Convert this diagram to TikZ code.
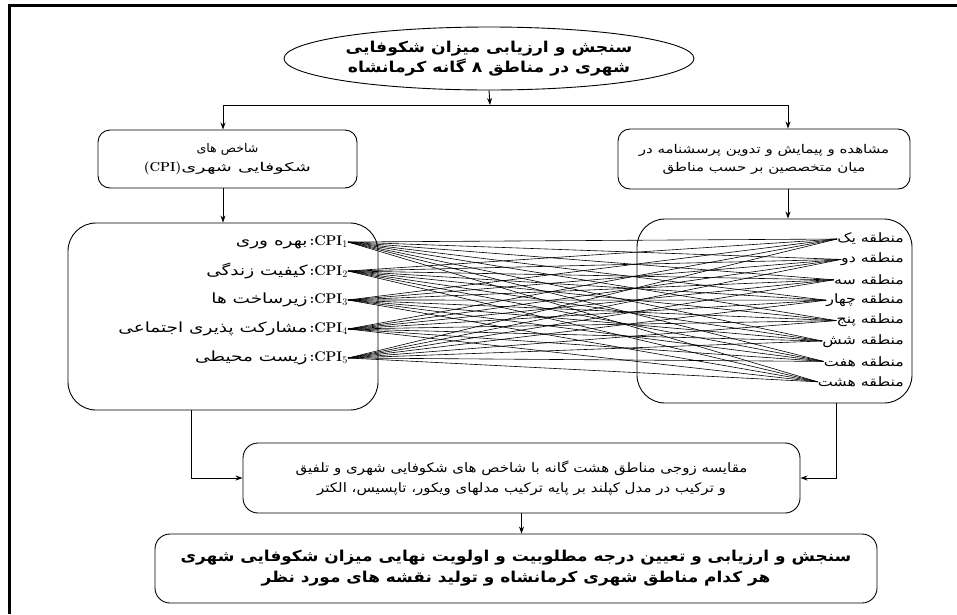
\documentclass[tikz,border=0pt]{standalone}
\usepackage{fontspec}
\usepackage{graphicx}
\usetikzlibrary{shapes.geometric,arrows.meta}
\newfontfamily\fa[Script=Arabic]{DejaVu Sans}
\TeXXeTstate=1
\newcommand\sx[2]{\scalebox{#1}[1]{#2}}
\begin{document}
\begin{tikzpicture}[x=1pt,y=-1pt,
  box/.style={draw, line width=0.9pt, rounded corners=12pt, inner sep=0pt, align=center},
  arr/.style={-{Stealth[length=7pt,width=5pt]}, line width=0.9pt},
  link/.style={line width=0.6pt},
  lab/.style={inner sep=0pt, anchor=east},
  cpif/.style={font=\fa\fontsize{14}{16}\selectfont},
]
\useasboundingbox (0,0) rectangle (957,614);
% frame
\draw[line width=3pt] (9,614) -- (9,5) -- (957,5);

% goal ellipse
\node[ellipse, draw, line width=0.9pt, minimum width=410pt, minimum height=63pt, inner sep=0pt] (goal) at (489,58.5) {};
\node[align=center, font=\fa\bfseries\fontsize{15}{20}\selectfont] (goalt) at (goal.center)
  {\sx{1.15}{\beginR سنجش و ارزیابی میزان شکوفایی\endR}\\\sx{1.15}{\beginR شهری در مناطق ۸ گانه کرمانشاه\endR}};

% second level
\node[box, minimum width=259pt, minimum height=58pt, font=\fa\fontsize{12}{19}\selectfont] (ind) at (227.5,159)
  {\sx{1.05}{\beginR شاخص های\endR}\hspace{46pt}\\{\rmfamily\bfseries\fontsize{13}{13}\selectfont(CPI)}\sx{1.6}{\beginR شکوفایی شهری\endR}};
\node[box, minimum width=292pt, minimum height=60pt, font=\fa\fontsize{12}{18}\selectfont] (obs) at (764,159)
  {\sx{1.25}{\beginR مشاهده و پیمایش و تدوین پرسشنامه در\endR}\\\sx{1.25}{\beginR میان متخصصین بر حسب مناطق\endR}};

% big boxes
\node[box, rounded corners=28pt, minimum width=310pt, minimum height=187pt] (cpibox) at (223,316.5) {};
\node[box, rounded corners=28pt, minimum width=275pt, minimum height=184pt] (zonebox) at (774.5,311) {};

% CPI labels
\foreach \i/\y/\t in {1/242/بهره وری,2/271/کیفیت زندگی,3/300/زیرساخت ها,4/329/مشارکت پذیری اجتماعی,5/358/زیست محیطی}
  \node[lab, cpif] (c\i) at (348,\y) {\sx{1.32}{\beginR \t\endR}\,{\rmfamily\bfseries\fontsize{14}{14}\selectfont :CPI$_{\i}$}};

% zone labels
\foreach \j/\t in {1/یک,2/دو,3/سه,4/چهار,5/پنج,6/شش,7/هفت,8/هشت}
  \node[lab, font=\fa\fontsize{13}{15}\selectfont] (z\j) at (904,{239+20.4*(\j-1)}) {\sx{1.22}{\beginR منطقه \t\endR}};

% links
\foreach \i in {1,...,5}
  \foreach \j in {1,...,8}
    \draw[link] (c\i.east) -- (z\j.west);

% comparison box
\node[box, rounded corners=15pt, minimum width=557pt, minimum height=70pt, font=\fa\fontsize{13}{20}\selectfont] (cmp) at (521.5,478)
  {\sx{1.155}{\beginR مقایسه زوجی مناطق هشت گانه با شاخص های شکوفایی شهری و تلفیق\endR}\\\sx{1.155}{\beginR و ترکیب در مدل کپلند بر پایه ترکیب مدلهای ویکور، تاپسیس، الکتر\endR}};

% final box
\node[box, rounded corners=15pt, minimum width=722pt, minimum height=69pt, font=\fa\bfseries\fontsize{15}{21}\selectfont] (final) at (516,568.5)
  {\sx{1.13}{\beginR سنجش و ارزیابی و تعیین درجه مطلوبیت و اولویت نهایی میزان شکوفایی شهری\endR}\\\sx{1.13}{\beginR هر کدام مناطق شهری کرمانشاه و تولید نقشه های مورد نظر\endR}};

% connectors
\coordinate (split) at (490,105);
\draw[arr] (goal.south) -- (split);
\draw[arr] (split) -| ([xshift=-4.5pt]ind.north);
\draw[arr] (split) -| ([xshift=24pt]obs.north);
\draw[arr] ([xshift=-4.5pt]ind.south) -- ([xshift=-4.5pt]ind.south |- cpibox.north);
\draw[arr] ([xshift=24pt]obs.south) -- ([xshift=24pt]obs.south |- zonebox.north);
\draw[arr] ([xshift=-32pt]cpibox.south) |- (cmp.west);
\draw[arr] ([xshift=61.5pt]zonebox.south) |- (cmp.east);
\draw[arr] (cmp.south) -- (cmp.south |- final.north);
\end{tikzpicture}
\end{document}
